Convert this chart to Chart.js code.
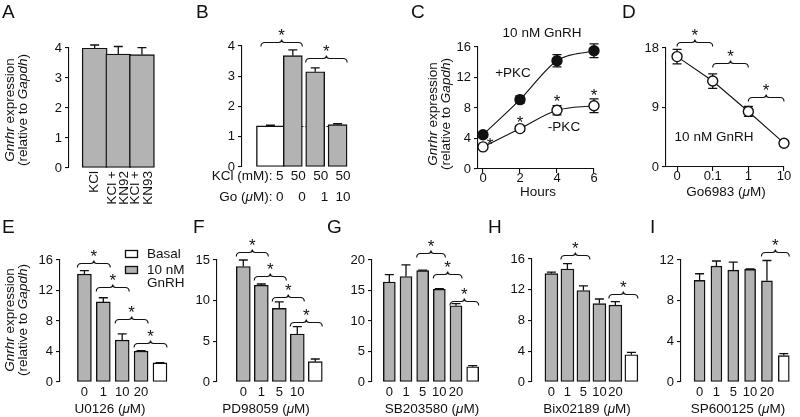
<!DOCTYPE html>
<html>
<head>
<meta charset="utf-8">
<title>Gnrhr expression</title>
<script src="https://cdn.jsdelivr.net/npm/chart.js@4.4.1/dist/chart.umd.min.js"></script>
<style>
  html, body { margin: 0; padding: 0; background: #fff; }
  #fig { position: relative; width: 800px; height: 417px; overflow: hidden; }
  #fig canvas { position: absolute; left: 0; top: 0; }
</style>
</head>
<body>
<div id="fig"></div>
<script>
// A - KCl with KN92 / KN93
const aLabels = [['KCl'], ['KCl +', 'KN92'], ['KCl +', 'KN93']];
const aValues = [4.0, 3.8, 3.78];
const aErr = [0.1, 0.25, 0.23];

// B - KCl and Go6983
const bKcl = ['5', '50', '50', '50'];
const bGo = ['0', '0', '1', '10'];
const bBasal = 1.36;
const bBasalErr = 0.02;
const bValues = [3.68, 3.15, 1.4];
const bErr = [0.19, 0.13, 0.03];

// C - time course, 10 nM GnRH
const cHours = [0, 2, 4, 6];
const cPlus = [4.5, 9.1, 14.2, 15.5];
const cPlusErr = [0.3, 0.5, 0.8, 0.9];
const cMinus = [2.9, 5.3, 7.7, 8.3];
const cMinusErr = [0.3, 0.35, 0.6, 0.9];

// D - Go6983 dose
const dDoses = ['0', '0.1', '1', '10'];
const dValues = [16.7, 13.0, 8.4, 3.6];
const dErr = [1.1, 1.1, 0.75, 0.4];

// E..I - inhibitors with 10 nM GnRH, last bar basal
const eDoses = ['0', '1', '10', '20'];
const eValues = [14.15, 10.5, 5.5, 4.05];
const eErr = [0.45, 0.55, 0.8, 0.05];
const eBasal = 2.5, eBasalErr = 0.05;

const fDoses = ['0', '1', '5', '10'];
const fValues = [14.2, 11.9, 9.05, 5.9];
const fErr = [0.8, 0.15, 0.8, 0.9];
const fBasal = 2.5, fBasalErr = 0.33;

const gDoses = ['0', '1', '5', '10', '20'];
const gValues = [16.4, 17.3, 18.25, 15.2, 12.5];
const gErr = [1.2, 1.9, 0.1, 0.1, 0.35];
const gBasal = 2.5, gBasalErr = 0.2;

const hDoses = ['0', '1', '5', '10', '20'];
const hValues = [14.1, 14.7, 11.9, 10.2, 10.0];
const hErr = [0.2, 0.7, 0.6, 0.6, 0.45];
const hBasal = 3.55, hBasalErr = 0.3;

const iDoses = ['0', '1', '5', '10', '20'];
const iValues = [10.0, 11.4, 11.0, 11.08, 9.95];
const iErr = [0.65, 0.5, 0.8, 0.05, 2.0];
const iBasal = 2.6, iBasalErr = 0.2;

const fam = "'Liberation Sans', Arial, Helvetica, sans-serif";
const ink = '#111111';
const grey = '#b3b3b3';
const tickFont = {family: fam, size: 13};
const fig = document.getElementById('fig');

function makeCanvas() {
  const c = document.createElement('canvas');
  c.width = 800; c.height = 417;
  fig.appendChild(c);
  return c;
}

function common(box) {
  return {
    responsive: false, animation: false, devicePixelRatio: 1, events: [],
    layout: {padding: {left: box.left - 32, top: box.top, right: 800 - box.right, bottom: 417 - box.bottom - 22}},
    plugins: {legend: {display: false}, tooltip: {enabled: false}}
  };
}

function yScale(max, step) {
  return {
    min: 0, max: max,
    afterFit: s => { s.width = 32; },
    border: {display: true, color: ink, width: 1.1},
    grid: {display: true, drawOnChartArea: false, drawTicks: true, tickLength: 4, color: ink, lineWidth: 1.1},
    ticks: {stepSize: step, color: ink, padding: 3, font: tickFont}
  };
}

function xLine(min, max, step, cb) {
  return {
    type: 'linear', min: min, max: max,
    afterFit: s => { s.height = 22; },
    border: {display: true, color: ink, width: 1.1},
    grid: {display: true, drawOnChartArea: false, drawTicks: true, tickLength: 4, color: ink, lineWidth: 1.1},
    ticks: {stepSize: step, includeBounds: false, autoSkip: false, maxRotation: 0, padding: -2, color: ink, font: tickFont, callback: cb}
  };
}

// text with italic pieces
function rich(ctx, parts, x, y, size, align) {
  const fonts = parts.map(p => (p[1] ? 'italic ' : '') + size + 'px ' + fam);
  const widths = parts.map((p, k) => { ctx.font = fonts[k]; return ctx.measureText(p[0]).width; });
  const total = widths.reduce((a, b) => a + b, 0);
  let cx = align === 'center' ? x - total / 2 : align === 'right' ? x - total : x;
  ctx.fillStyle = ink;
  ctx.textAlign = 'left';
  ctx.textBaseline = 'middle';
  parts.forEach((p, k) => { ctx.font = fonts[k]; ctx.fillText(p[0], cx, y); cx += widths[k]; });
}

function letter(ctx, t, x, y) {
  ctx.save();
  ctx.fillStyle = ink; ctx.font = '19px ' + fam;
  ctx.textAlign = 'left'; ctx.textBaseline = 'alphabetic';
  ctx.fillText(t, x, y);
  ctx.restore();
}

function yTitle(ctx, x, cy) {
  ctx.save();
  ctx.translate(x, cy);
  ctx.rotate(-Math.PI / 2);
  rich(ctx, [['Gnrhr', true], [' expression', false]], 0, -6.5, 13.5, 'center');
  rich(ctx, [['(relative to ', false], ['Gapdh', true], [')', false]], 0, 6.5, 13.5, 'center');
  ctx.restore();
}

function star(ctx, x, cy) {
  ctx.save();
  ctx.fillStyle = ink; ctx.font = '17px ' + fam;
  ctx.textAlign = 'center'; ctx.textBaseline = 'alphabetic';
  ctx.fillText('*', x, cy + 9.7);
  ctx.restore();
}

function brace(chart, xi, xj, level, pad) {
  const ctx = chart.ctx;
  const x1 = chart.scales.x.getPixelForValue(xi) - pad;
  const x2 = chart.scales.x.getPixelForValue(xj) + pad;
  const y = Math.round(chart.scales.y.getPixelForValue(level)) + 0.5;
  const xm = (x1 + x2) / 2;
  ctx.save();
  ctx.strokeStyle = ink; ctx.lineWidth = 1.1;
  ctx.beginPath();
  ctx.moveTo(x1, y + 4);
  ctx.quadraticCurveTo(x1, y, x1 + 4, y);
  ctx.lineTo(xm - 3, y);
  ctx.quadraticCurveTo(xm, y, xm, y - 3);
  ctx.quadraticCurveTo(xm, y, xm + 3, y);
  ctx.lineTo(x2 - 4, y);
  ctx.quadraticCurveTo(x2, y, x2, y + 4);
  ctx.stroke();
  ctx.restore();
  star(ctx, xm, y - 11);
}

function errBars(chart, xs, vals, errs, both) {
  const ctx = chart.ctx, sx = chart.scales.x, sy = chart.scales.y;
  ctx.save();
  ctx.strokeStyle = ink; ctx.lineWidth = 1.3;
  vals.forEach((v, i) => {
    const x = sx.getPixelForValue(xs[i]);
    const hi = sy.getPixelForValue(v + errs[i]);
    const lo = sy.getPixelForValue(both ? v - errs[i] : v);
    ctx.beginPath();
    ctx.moveTo(x, lo); ctx.lineTo(x, hi);
    ctx.moveTo(x - 4.5, hi); ctx.lineTo(x + 4.5, hi);
    if (both) { ctx.moveTo(x - 4.5, lo); ctx.lineTo(x + 4.5, lo); }
    ctx.stroke();
  });
  ctx.restore();
}

function barPanel(p) {
  const xs = p.values.map((v, i) => p.first + i);
  const sets = [{
    label: '10 nM GnRH',
    data: p.values.map((v, i) => ({x: xs[i], y: v})),
    backgroundColor: grey, borderColor: ink, borderWidth: 1.4, borderSkipped: false,
    barThickness: p.thick, grouped: false
  }];
  if (p.basal !== undefined) {
    sets.push({
      label: 'Basal',
      data: [{x: p.basalAt, y: p.basal}],
      backgroundColor: '#ffffff', borderColor: ink, borderWidth: 1.4, borderSkipped: false,
      barThickness: p.basalThick || p.thick, grouped: false
    });
  }
  const opts = common(p.box);
  opts.scales = {
    x: {
      type: 'linear', min: p.xMin, max: p.xMax,
      afterFit: s => { s.height = 22; },
      border: {display: false},
      grid: {display: false, drawTicks: false},
      ticks: {stepSize: 1, includeBounds: false, autoSkip: false, maxRotation: 0, padding: 3, color: ink, font: tickFont,
              callback: v => (p.ticks && p.ticks[v - p.first]) || ''}
    },
    y: yScale(p.yMax, p.yStep)
  };
  return new Chart(makeCanvas(), {
    type: 'bar',
    data: {datasets: sets},
    options: opts,
    plugins: [{
      id: 'decor',
      beforeDatasetsDraw(c) { if (p.under) p.under(c); },
      afterDraw(c) {
        errBars(c, xs, p.values, p.errs, false);
        if (p.basal !== undefined) errBars(c, [p.basalAt], [p.basal], [p.basalErr], false);
        (p.brackets || []).forEach(b => brace(c, b[0], b[1], b[2], p.thick / 2));
        letter(c.ctx, p.letter[0], p.letter[1], p.letter[2]);
        if (p.title) rich(c.ctx, p.title, p.titleAt[0], p.titleAt[1], 13.5, 'center');
        if (p.extra) p.extra(c);
      }
    }]
  });
}

// ---------- A ----------
barPanel({
  box: {left: 69, right: 169, top: 48, bottom: 168},
  xMin: -0.38, xMax: 2.44, yMax: 4, yStep: 1,
  first: 0, values: aValues, errs: aErr, thick: 25,
  letter: ['A', 2, 18],
  extra(c) {
    const ctx = c.ctx;
    yTitle(ctx, 17, 110);
    ctx.save();
    ctx.fillStyle = ink; ctx.font = '13.5px ' + fam;
    aLabels.forEach((lines, i) => {
      lines.forEach((t, k) => {
        const x = c.scales.x.getPixelForValue(i) + (k - (lines.length - 1) / 2) * 12.5;
        ctx.save();
        ctx.translate(x, 171);
        ctx.rotate(-Math.PI / 2);
        ctx.textAlign = 'right'; ctx.textBaseline = 'middle';
        ctx.fillText(t, 0, 0);
        ctx.restore();
      });
    });
    ctx.restore();
  }
});

// ---------- B ----------
barPanel({
  box: {left: 242, right: 362, top: 46, bottom: 167},
  xMin: -0.6, xMax: 3.42, yMax: 4, yStep: 1,
  first: 1, values: bValues, errs: bErr, thick: 19,
  basal: bBasal, basalErr: bBasalErr, basalAt: 0, basalThick: 28,
  brackets: [[0, 1, 4.13], [2, 3, 3.6]],
  letter: ['B', 196, 18],
  under(c) {
    const ctx = c.ctx, sx = c.scales.x, sy = c.scales.y;
    const y = Math.round(sy.getPixelForValue(bBasal)) + 0.5;
    ctx.save();
    ctx.strokeStyle = ink; ctx.lineWidth = 1; ctx.setLineDash([1.5, 2]);
    ctx.beginPath();
    ctx.moveTo(sx.getPixelForValue(0), y); ctx.lineTo(sx.getPixelForValue(3), y);
    ctx.stroke();
    ctx.restore();
  },
  extra(c) {
    const ctx = c.ctx, sx = c.scales.x;
    const x0 = sx.getPixelForValue(0);
    rich(ctx, [['KCl (mM):', false]], x0 + 2, 176, 13.5, 'right');
    rich(ctx, [['Go (', false], ['\u03bc', true], ['M):', false]], x0 + 2, 197, 13.5, 'right');
    bKcl.forEach((t, i) => rich(ctx, [[t, false]], sx.getPixelForValue(i) + 13, 176, 13.5, 'right'));
    bGo.forEach((t, i) => rich(ctx, [[t, false]], sx.getPixelForValue(i) + 13, 197, 13.5, 'right'));
  }
});

// ---------- C ----------
(function () {
  const opts = common({left: 478, right: 594, top: 47, bottom: 169});
  opts.scales = {x: xLine(-0.27, 6, 2), y: yScale(16, 4)};
  const line = (vals, fillColor, label) => ({
    label: label,
    data: cHours.map((h, i) => ({x: h, y: vals[i]})),
    borderColor: ink, borderWidth: 1.1, cubicInterpolationMode: 'monotone',
    pointRadius: 5, pointBackgroundColor: fillColor, pointBorderColor: ink, pointBorderWidth: 1.4,
    clip: false
  });
  new Chart(makeCanvas(), {
    type: 'line',
    data: {datasets: [line(cPlus, ink, '+PKC'), line(cMinus, '#ffffff', '-PKC')]},
    options: opts,
    plugins: [{
      id: 'decor',
      beforeDatasetsDraw(c) {
        errBars(c, cHours, cPlus, cPlusErr, true);
        errBars(c, cHours, cMinus, cMinusErr, true);
      },
      afterDraw(c) {
        const ctx = c.ctx, sx = c.scales.x, sy = c.scales.y;
        cHours.forEach((h, i) => {
          if (i === 0) star(ctx, sx.getPixelForValue(h) + 7, sy.getPixelForValue(cMinus[i]) - 7);
          else star(ctx, sx.getPixelForValue(h), sy.getPixelForValue(cMinus[i] + cMinusErr[i]) - 8);
        });
        rich(ctx, [['10 nM GnRH', false]], 542, 33, 13.5, 'center');
        rich(ctx, [['+PKC', false]], 513, 73, 13.5, 'center');
        rich(ctx, [['-PKC', false]], 564, 127, 13.5, 'center');
        rich(ctx, [['Hours', false]], 538, 192, 13.5, 'center');
        yTitle(ctx, 440, 114);
        letter(ctx, 'C', 411, 18);
      }
    }]
  });
})();

// ---------- D ----------
(function () {
  const opts = common({left: 666, right: 784, top: 48, bottom: 167});
  opts.scales = {x: xLine(-0.31, 3, 1, v => dDoses[v] || ''), y: yScale(18, 9)};
  new Chart(makeCanvas(), {
    type: 'line',
    data: {datasets: [{
      label: '10 nM GnRH',
      data: dValues.map((v, i) => ({x: i, y: v})),
      borderColor: ink, borderWidth: 1.1, tension: 0,
      pointRadius: 5, pointBackgroundColor: '#ffffff', pointBorderColor: ink, pointBorderWidth: 1.4,
      clip: false
    }]},
    options: opts,
    plugins: [{
      id: 'decor',
      beforeDatasetsDraw(c) { errBars(c, dValues.map((v, i) => i), dValues, dErr, true); },
      afterDraw(c) {
        const ctx = c.ctx;
        [[0, 1, 18.9], [1, 2, 15.7], [2, 3, 10.6]].forEach(b => brace(c, b[0], b[1], b[2], 0));
        rich(ctx, [['10 nM GnRH', false]], 714, 137, 13.5, 'center');
        rich(ctx, [['Go6983 (', false], ['\u03bc', true], ['M)', false]], 726, 192, 13.5, 'center');
        letter(ctx, 'D', 622, 18);
      }
    }]
  });
})();

// ---------- E ----------
const umTitle = name => [[name + ' (', false], ['\u03bc', true], ['M)', false]];

barPanel({
  box: {left: 60, right: 182, top: 260, bottom: 382},
  xMin: -0.646, xMax: 4.52, yMax: 16, yStep: 4,
  first: 0, values: eValues, errs: eErr, thick: 14, ticks: eDoses,
  basal: eBasal, basalErr: eBasalErr, basalAt: eDoses.length,
  brackets: [[0, 1, 15.6], [1, 2, 12.45], [2, 3, 8.25], [3, 4, 5.1]],
  letter: ['E', 2, 233], title: umTitle('U0126'), titleAt: [110, 409],
  extra(c) {
    const ctx = c.ctx;
    yTitle(ctx, 17, 320);
    const sets = c.data.datasets;
    ctx.save();
    ctx.lineWidth = 1.3; ctx.strokeStyle = ink;
    ctx.fillStyle = sets[1].backgroundColor;
    ctx.fillRect(125.5, 250.5, 12, 7); ctx.strokeRect(125.5, 250.5, 12, 7);
    ctx.fillStyle = sets[0].backgroundColor;
    ctx.fillRect(125.5, 266.5, 12, 7); ctx.strokeRect(125.5, 266.5, 12, 7);
    ctx.restore();
    rich(ctx, [[sets[1].label, false]], 147, 254, 13.5, 'left');
    rich(ctx, [['10 nM', false]], 147, 270, 13.5, 'left');
    rich(ctx, [['GnRH', false]], 147, 283, 13.5, 'left');
  }
});

// ---------- F ----------
barPanel({
  box: {left: 217, right: 336, top: 260, bottom: 382},
  xMin: -0.8, xMax: 4.49, yMax: 15, yStep: 5,
  first: 0, values: fValues, errs: fErr, thick: 14, ticks: fDoses,
  basal: fBasal, basalErr: fBasalErr, basalAt: fDoses.length,
  brackets: [[0, 1, 16.0], [1, 2, 13.0], [2, 3, 10.45], [3, 4, 7.4]],
  letter: ['F', 193, 233], title: umTitle('PD98059'), titleAt: [266, 409]
});

// ---------- G ----------
barPanel({
  box: {left: 372, right: 490, top: 260, bottom: 382},
  xMin: -0.45, xMax: 5.45, yMax: 20, yStep: 5,
  first: 0, values: gValues, errs: gErr, thick: 12, ticks: gDoses,
  basal: gBasal, basalErr: gBasalErr, basalAt: gDoses.length,
  brackets: [[2, 3, 21.1], [3, 4, 17.65], [4, 5, 13.3]],
  letter: ['G', 327, 233], title: umTitle('SB203580'), titleAt: [432, 409]
});

// ---------- H ----------
barPanel({
  box: {left: 532, right: 650, top: 259, bottom: 382},
  xMin: -0.6, xMax: 5.55, yMax: 16, yStep: 4,
  first: 0, values: hValues, errs: hErr, thick: 13, ticks: hDoses,
  basal: hBasal, basalErr: hBasalErr, basalAt: hDoses.length,
  brackets: [[1, 2, 16.5], [4, 5, 11.5]],
  letter: ['H', 488, 233], title: umTitle('Bix02189'), titleAt: [587, 409]
});

// ---------- I ----------
barPanel({
  box: {left: 681, right: 799, top: 260, bottom: 382},
  xMin: -0.52, xMax: 5.32, yMax: 12, yStep: 4,
  first: 0, values: iValues, errs: iErr, thick: 11, ticks: iDoses,
  basal: iBasal, basalErr: iBasalErr, basalAt: iDoses.length,
  brackets: [[4, 5, 12.75]],
  letter: ['I', 650, 233], title: umTitle('SP600125'), titleAt: [738, 409]
});
</script>
</body>
</html>
